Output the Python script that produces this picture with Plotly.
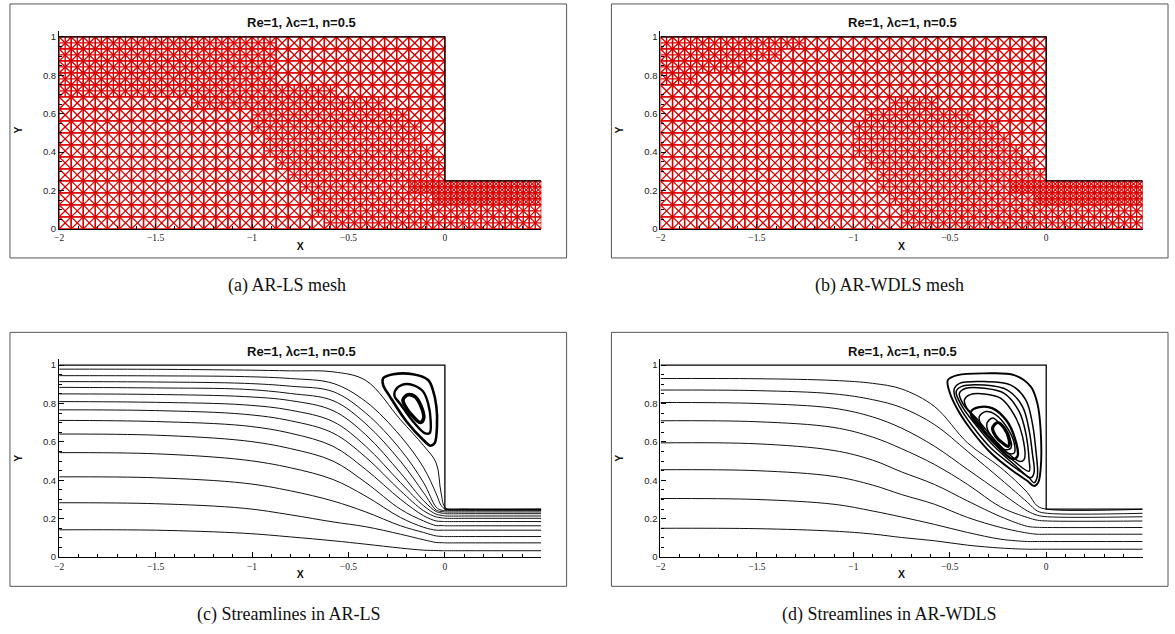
import plotly.graph_objects as go

TITLE = "Re=1, λc=1, n=0.5"
CAPTIONS = ["(a) AR-LS mesh", "(b) AR-WDLS mesh", "(c) Streamlines in AR-LS", "(d) Streamlines in AR-WDLS"]

# Domain outline (data units)
WALL_X = [-2, 0, 0, 0.5]
WALL_Y = [1, 1, 0.25, 0.25]
BLOCKS = [(-2, 0, 0, 1), (0, 0.5, 0, 0.25)]
BASE_CELL = 0.0625

# Mesh refinement regions (x, y vertices)
REFINE_A_1 = [[(-2, 1), (-.89, 1), (-.89, .805), (-.785, .738), (-.475, .712), (-.269, .64), (-.166, .557),
               (0, .34), (0, .25), (.5, .25), (.5, 0), (-.604, 0), (-.682, .122), (-.785, .226), (-.904, .35),
               (-.95, .469), (-1.017, .598), (-1.12, .65), (-2, .676)]]
REFINE_A_2 = [[(-.19, .25), (.5, .25), (.5, .11), (.03, .12), (-.1, .17), (-.19, .22)]]
REFINE_B_1 = [[(-2, 1), (-1.22, 1), (-1.3, .92), (-1.5, .87), (-1.7, .81), (-1.85, .76), (-2, .76)],
              [(-1.025, .5), (-.96, .6), (-.77, .66), (-.55, .66), (-.34, .585), (-.17, .465), (0, .295), (0, .25),
               (.5, .25), (.5, 0), (-.71, 0), (-.75, .12), (-.84, .21), (-.9, .275), (-.97, .36)]]
REFINE_B_2 = [[(-.22, .27), (0, .27), (0, .25), (.5, .25), (.5, .11), (.05, .12), (-.1, .17), (-.22, .22)]]

# Streamlines, panel c
C_X = [-2, -1.5, -1.04, -0.8, -0.58, -0.41, -0.23, -0.11, -0.045, -0.02, 0.005, 0.1, 0.5]
C_L1 = [.142, .140, .124, .105, .085, .067, .047, .036, .034, .033, .033, .033, .033]
C_L2 = [.283, .278, .254, .22, .183, .158, .119, .09, .076, .075, .074, .074, .074]
C_L3 = [.418, .413, .385, .345, .292, .235, .163, .128, .11, .108, .107, .107, .107]
C_L4 = [.544, .538, .506, .465, .404, .317, .206, .155, .14, .14, .14, .14, .14]
C_L5 = [.641, .635, .606, .565, .5, .388, .249, .188, .164, .164, .163, .163, .163]
C_L6 = [.712, .706, .684, .645, .577, .456, .301, .215, .188, .186, .185, .185, .185]
C_L7 = [.767, .763, .744, .71, .646, .52, .345, .241, .209, .205, .202, .202, .202]
C_L8 = [.81, .806, .793, .765, .706, .577, .388, .267, .223, .218, .214, .214, .214]
C_L9 = [.85, .847, .836, .815, .763, .637, .438, .293, .237, .23, .226, .226, .226]
C_L10 = [.884, .881, .874, .852, .815, .694, .499, .335, .245, .238, .235, .235, .235]
C_L11 = [.914, .912, .905, .89, .862, .75, .56, .387, .26, .245, .242, .242, .242]
C_L12 = [.945, .944, .94, .93, .905, .81, .63, .465, .33, .27, .248, .247, .247]
C_L13 = [.979, .978, .974, .97, .965, .92, .715, .58, .49, .335, .255, .249, .249]
C_LINES = [C_L1, C_L2, C_L3, C_L4, C_L5, C_L6, C_L7, C_L8, C_L9, C_L10, C_L11, C_L12, C_L13]

C_V1_X = [-.32, -.268, -.165, -.087, -.062, -.044, -.041, -.053, -.074, -.113, -.199, -.285, -.32, -.32]
C_V1_Y = [.931, .952, .952, .922, .870, .784, .680, .594, .580, .611, .706, .836, .896, .931]
C_V2_X = [-.26, -.225, -.165, -.113, -.087, -.074, -.079, -.105, -.165, -.234, -.26, -.26]
C_V2_Y = [.862, .896, .896, .862, .801, .715, .646, .646, .706, .801, .836, .862]
C_V3_X = [-.217, -.191, -.156, -.127, -.11, -.127, -.165, -.199, -.217]
C_V3_Y = [.819, .845, .836, .793, .724, .701, .732, .775, .819]
C_LOOPS = [(C_V1_X, C_V1_Y, 2.6), (C_V2_X, C_V2_Y, 2.4), (C_V3_X, C_V3_Y, 3.6)]

# Streamlines, panel d
D_X = [-2, -1.5, -1.1, -0.9, -0.751, -0.579, -0.407, -0.235, -0.097, -0.046, 0.006, 0.5]
D_L1 = [.15, .148, .135, .12, .102, .085, .062, .047, .041, .041, .041, .041]
D_L2 = [.305, .30, .275, .24, .209, .17, .128, .093, .081, .081, .081, .081]
D_L3 = [.455, .45, .42, .375, .326, .275, .206, .154, .125, .119, .119, .119]
D_L4 = [.595, .59, .555, .505, .444, .378, .292, .21, .16, .155, .154, .154]
D_L5 = [.71, .705, .675, .625, .565, .482, .378, .26, .206, .192, .188, .188]
D_L6 = [.805, .80, .775, .73, .672, .577, .456, .335, .24, .218, .21, .21]
D_L7 = [.87, .867, .85, .82, .779, .69, .55, .405, .285, .24, .228, .228]
D_L8 = [.93, .929, .92, .905, .876, .784, .594, .465, .335, .266, .249, .249]
D_LINES = [D_L1, D_L2, D_L3, D_L4, D_L5, D_L6, D_L7, D_L8]

D_V1_X = [-.51, -.459, -.321, -.166, -.08, -.046, -.029, -.029, -.042, -.063, -.097, -.183, -.287, -.39, -.459, -.502, -.51]
D_V1_Y = [.922, .948, .957, .948, .888, .801, .663, .456, .387, .37, .396, .456, .542, .663, .767, .862, .922]
D_V2_X = [-.476, -.45, -.321, -.183, -.106, -.072, -.054, -.046, -.063, -.089, -.183, -.287, -.381, -.45, -.476, -.476]
D_V2_Y = [.879, .905, .914, .896, .819, .698, .56, .421, .387, .413, .482, .568, .68, .784, .845, .879]
D_V3_X = [-.467, -.441, -.321, -.201, -.123, -.089, -.072, -.063, -.08, -.166, -.278, -.373, -.441, -.467]
D_V3_Y = [.862, .888, .896, .87, .784, .663, .542, .439, .413, .482, .585, .698, .793, .862]
D_V4_X = [-.45, -.416, -.321, -.218, -.14, -.106, -.089, -.089, -.166, -.269, -.364, -.433, -.45]
D_V4_Y = [.853, .879, .879, .853, .758, .646, .508, .447, .499, .594, .715, .801, .853]
D_V5_X = [-.424, -.398, -.321, -.235, -.166, -.123, -.115, -.14, -.252, -.355, -.416, -.424]
D_V5_Y = [.819, .845, .85, .827, .741, .629, .508, .499, .594, .715, .784, .819]
D_V6_X = [-.39, -.347, -.278, -.209, -.166, -.149, -.175, -.269, -.347, -.386, -.39]
D_V6_Y = [.758, .781, .775, .715, .629, .525, .511, .594, .68, .732, .758]
D_V7_X = [-.347, -.312, -.261, -.201, -.166, -.166, -.201, -.269, -.33, -.347]
D_V7_Y = [.732, .758, .741, .672, .594, .542, .542, .603, .672, .732]
D_V8_X = [-.307, -.278, -.235, -.192, -.183, -.218, -.269, -.304, -.307]
D_V8_Y = [.698, .724, .689, .629, .568, .56, .611, .663, .698]
D_V9_X = [-.278, -.252, -.218, -.192, -.197, -.226, -.261, -.278]
D_V9_Y = [.672, .701, .672, .611, .577, .594, .629, .672]
D_LOOPS = [(D_V1_X, D_V1_Y, 1.9), (D_V2_X, D_V2_Y, 1.5), (D_V3_X, D_V3_Y, 1.5), (D_V4_X, D_V4_Y, 1.5),
           (D_V5_X, D_V5_Y, 1.5), (D_V6_X, D_V6_Y, 2.4), (D_V7_X, D_V7_Y, 1.5), (D_V8_X, D_V8_Y, 1.5),
           (D_V9_X, D_V9_Y, 3.2)]


def inside(px, py, polys):
    for poly in polys:
        hit = False
        n = len(poly)
        for i in range(n):
            x1, y1 = poly[i]
            x2, y2 = poly[(i + 1) % n]
            if (y1 > py) != (y2 > py) and px < x1 + (py - y1) * (x2 - x1) / (y2 - y1):
                hit = not hit
        if hit:
            return True
    return False


def mesh(level1, level2):
    xs, ys = [], []

    def cell(x, y, h, plus):
        segs = [(x, y, x + h, y), (x + h, y, x + h, y + h), (x + h, y + h, x, y + h), (x, y + h, x, y),
                (x, y, x + h, y + h), (x + h, y, x, y + h)]
        if plus:
            segs += [(x + h / 2, y, x + h / 2, y + h), (x, y + h / 2, x + h, y + h / 2)]
        for a, b, c, d in segs:
            xs.extend([a, c, None])
            ys.extend([b, d, None])

    for x0, x1, y0, y1 in BLOCKS:
        nx = round((x1 - x0) / BASE_CELL)
        ny = round((y1 - y0) / BASE_CELL)
        for i in range(nx):
            for j in range(ny):
                x = x0 + i * BASE_CELL
                y = y0 + j * BASE_CELL
                cx = x + BASE_CELL / 2
                cy = y + BASE_CELL / 2
                if inside(cx, cy, level2):
                    for a in (0, 1):
                        for b in (0, 1):
                            cell(x + a * BASE_CELL / 2, y + b * BASE_CELL / 2, BASE_CELL / 2, False)
                elif inside(cx, cy, level1):
                    cell(x, y, BASE_CELL, True)
                else:
                    cell(x, y, BASE_CELL, False)
    return xs, ys


W, H = 1175, 634
FRAMES = [(5, 564, 4, 260), (609, 1168, 4, 260), (5, 564, 335, 591), (609, 1168, 335, 591)]
PLOTS = [(54.4, 538.6, 31.4, 230.7), (658.3, 1142.5, 31.4, 230.7), (54.4, 538.6, 362.2, 561.5), (658.3, 1142.5, 362.2, 561.5)]
CAP_CENTERS = [(283, 288), (888, 288), (285, 619), (888, 619)]

fig = go.Figure()
MESH_COLOR = "#d90000"
meshes = [mesh(REFINE_A_1, REFINE_A_2), mesh(REFINE_B_1, REFINE_B_2)]
for k in range(2):
    fig.add_trace(go.Scatter(x=meshes[k][0], y=meshes[k][1], mode="lines", hoverinfo="skip",
                             line=dict(color=MESH_COLOR, width=1.35), xaxis=f"x{k + 1}", yaxis=f"y{k + 1}"))
for vals in C_LINES:
    fig.add_trace(go.Scatter(x=C_X, y=vals, mode="lines", line=dict(color="#111", width=1.0, shape="spline", smoothing=1),
                             xaxis="x3", yaxis="y3"))
for lx, ly, w in C_LOOPS:
    fig.add_trace(go.Scatter(x=lx, y=ly, mode="lines", line=dict(color="#000", width=w, shape="spline", smoothing=1),
                             xaxis="x3", yaxis="y3"))
for vals in D_LINES:
    fig.add_trace(go.Scatter(x=D_X, y=vals, mode="lines", line=dict(color="#111", width=1.0, shape="spline", smoothing=1),
                             xaxis="x4", yaxis="y4"))
for lx, ly, w in D_LOOPS:
    fig.add_trace(go.Scatter(x=lx, y=ly, mode="lines", line=dict(color="#000", width=w, shape="spline", smoothing=1),
                             xaxis="x4", yaxis="y4"))
for k in range(4):
    fig.add_trace(go.Scatter(x=WALL_X, y=WALL_Y, mode="lines", line=dict(color="#000", width=1.3),
                             xaxis=f"x{k + 1}", yaxis=f"y{k + 1}"))

layout = dict(width=W, height=H, margin=dict(l=0, r=0, t=0, b=0), showlegend=False,
              paper_bgcolor="white", plot_bgcolor="white", shapes=[], annotations=[])
for k in range(4):
    l, r, t, b = PLOTS[k]
    layout[f"xaxis{k + 1 if k else ''}"] = dict(
        domain=[l / W, r / W], range=[-2, 0.5], anchor=f"y{k + 1}", tickmode="array",
        tickvals=[-2, -1.5, -1, -0.5, 0], ticktext=["−2", "−1.5", "−1", "−0.5", "0"],
        ticks="inside", ticklen=5, tickwidth=1, tickcolor="#000",
        showline=True, linecolor="#000", linewidth=1.2, showgrid=False, zeroline=False,
        tickfont=dict(family="Liberation Serif", size=9.5, color="#222"),
        minor=dict(dtick=0.1, tick0=0, ticks="inside", ticklen=3, tickwidth=1, tickcolor="#000", showgrid=False),
        title=dict(text="<b>X</b>", font=dict(family="Liberation Sans", size=10.5, color="#111"), standoff=0))
    layout[f"yaxis{k + 1 if k else ''}"] = dict(
        domain=[1 - b / H, 1 - t / H], range=[0, 1.03], anchor=f"x{k + 1}", tickmode="array",
        tickvals=[0, 0.2, 0.4, 0.6, 0.8, 1], ticktext=["0", "0.2", "0.4", "0.6", "0.8", "1"],
        ticks="inside", ticklen=5, tickwidth=1, tickcolor="#000",
        showline=True, linecolor="#000", linewidth=1.2, showgrid=False, zeroline=False,
        tickfont=dict(family="Liberation Sans", size=9.5, color="#222"),
        minor=dict(dtick=0.05, tick0=0, ticks="inside", ticklen=3, tickwidth=1, tickcolor="#000", showgrid=False),
        title=dict(text="<b>Y</b>", font=dict(family="Liberation Sans", size=10.5, color="#111"), standoff=18))
    fl, fr, ft, fb = FRAMES[k]
    layout["shapes"].append(dict(type="rect", xref="paper", yref="paper", x0=fl / W, x1=fr / W,
                                 y0=1 - fb / H, y1=1 - ft / H, line=dict(color="#555", width=1), layer="below"))
    layout["annotations"].append(dict(text=f"<b>{TITLE}</b>", xref="paper", yref="paper", x=(l + 243) / W,
                                      y=1 - (ft + 19) / H, showarrow=False, xanchor="center", yanchor="middle",
                                      font=dict(family="Liberation Sans", size=13, color="#111")))
    cx, cy = CAP_CENTERS[k]
    layout["annotations"].append(dict(text=CAPTIONS[k], xref="paper", yref="paper", x=cx / W, y=1 - cy / H,
                                      showarrow=False, xanchor="center", yanchor="middle",
                                      font=dict(family="Liberation Serif", size=18, color="#111")))
fig.update_layout(**layout)
fig.write_html("out.html", config={"displayModeBar": False}, post_script="document.body.style.margin='0';")
